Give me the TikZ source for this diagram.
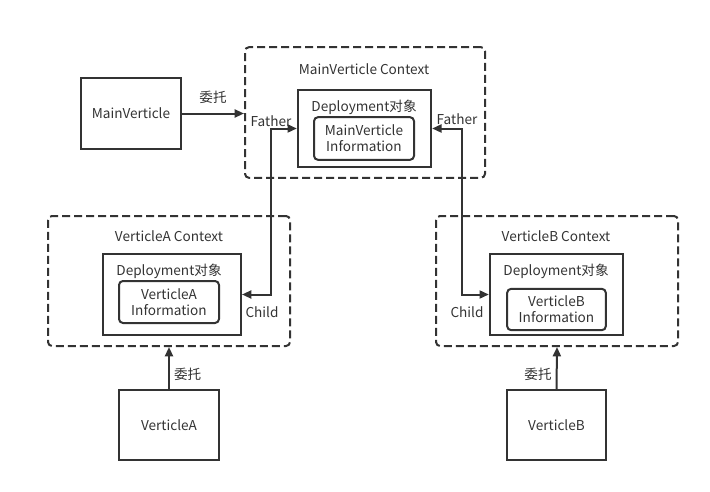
\documentclass[tikz,border=0pt]{standalone}
\usepackage{fontspec}
\setmainfont{Noto Sans CJK SC}
\usetikzlibrary{arrows.meta}
\definecolor{ink}{HTML}{333333}
\tikzset{
  box/.style={draw=ink, line width=1.5pt, text=ink, align=center, inner sep=0pt},
  ctx/.style={box, dashed, dash pattern=on 6pt off 3pt, rounded corners=3pt},
  info/.style={box, rounded corners=3pt},
  lbl/.style={text=ink, inner sep=0pt},
  arr/.style={draw=ink, line width=1.5pt, -{Triangle[length=7pt,width=6pt]}},
  biarr/.style={draw=ink, line width=1.5pt, {Triangle[length=7pt,width=6pt]}-{Triangle[length=7pt,width=6pt]}}
}
\begin{document}
\begin{tikzpicture}[x=0.75pt, y=-0.75pt, font=\fontsize{10.2}{12}\selectfont]
\useasboundingbox (0,0) rectangle (710,492);
% main verticle
\node[box, minimum width=75pt, minimum height=52.5pt] (mainv) at (131,113.5) {MainVerticle};
\node[ctx, minimum width=180pt, minimum height=98pt] (mainctx) at (365,112.5) {};
\node[lbl] (mainctxl) at (364,69) {MainVerticle Context};
\node[box, minimum width=100pt, minimum height=58pt] (maindep) at (364.5,128.5) {};
\node[lbl] (maindepl) at (364,107) {Deployment对象};
\node[info, minimum width=75pt, minimum height=32pt] (maininfo) at (364,138.5) {MainVerticle\\Information};
% verticle A
\node[ctx, minimum width=181.5pt, minimum height=97.5pt] (ctxA) at (169,281) {};
\node[lbl] (ctxAl) at (169,236) {VerticleA Context};
\node[box, minimum width=103.5pt, minimum height=61pt] (depA) at (172,294.5) {};
\node[lbl] (depAl) at (169,271) {Deployment对象};
\node[info, minimum width=75pt, minimum height=31.5pt] (infoA) at (169,302) {VerticleA\\Information};
\node[box, minimum width=75pt, minimum height=52.5pt] (verA) at (169,425) {VerticleA};
% verticle B
\node[ctx, minimum width=181.5pt, minimum height=97.5pt] (ctxB) at (557,281) {};
\node[lbl] (ctxBl) at (556,236) {VerticleB Context};
\node[box, minimum width=100pt, minimum height=61pt] (depB) at (556.5,294.5) {};
\node[lbl] (depBl) at (556,271) {Deployment对象};
\node[info, minimum width=74pt, minimum height=31pt] (infoB) at (556.5,309.5) {VerticleB\\Information};
\node[box, minimum width=74pt, minimum height=52.5pt] (verB) at (556.5,425) {VerticleB};
% connectors
\draw[arr] (mainv.east) -- node[lbl, above=7pt] {委托} (mainv.east -| mainctx.west);
\draw[arr] (verA.north) -- node[lbl, right=3pt, pos=0.35] {委托} (ctxA.south);
\draw[arr] (verB.north) -- node[lbl, left=3pt, pos=0.35] {委托} (ctxB.south);
\draw[biarr] (depA.east) -- ++(29,0) |- (maindep.west);
\draw[biarr] (maindep.east) -- ++(30,0) |- (depB.west);
\node[lbl] (fatherA) at (271,121) {Father};
\node[lbl] (childA) at (262,312) {Child};
\node[lbl] (fatherB) at (457,119) {Father};
\node[lbl] (childB) at (467,312) {Child};
\end{tikzpicture}
\end{document}
